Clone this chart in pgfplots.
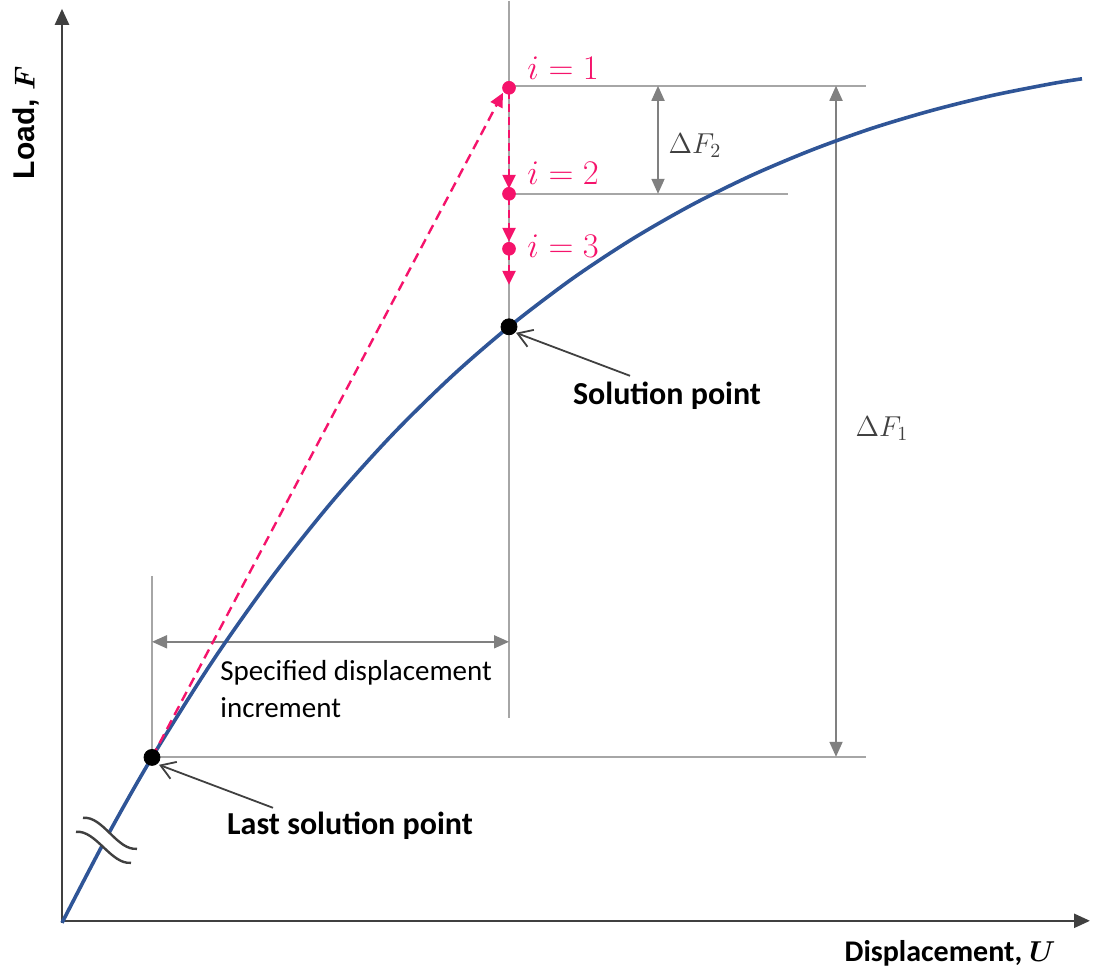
\documentclass[border=0pt]{standalone}
\usepackage{pgfplots}
\pgfplotsset{compat=1.18}
\usepackage{bm}
\usepackage{fontspec}
\setmainfont{Carlito}
\newfontfamily\arialfont{Liberation Sans}
\usetikzlibrary{arrows.meta}

\definecolor{curveblue}{HTML}{2F5597}
\definecolor{iterpink}{HTML}{F5136B}
\definecolor{axisgray}{HTML}{404040}
\definecolor{guidegray}{HTML}{A6A6A6}
\definecolor{dimgray}{HTML}{808080}

\tikzset{
  dimtip/.tip={Triangle[length=7.5pt,width=6.5pt]},
  pinktip/.tip={Triangle[length=7pt,width=6.5pt]},
}

\begin{document}
\begin{tikzpicture}
\begin{axis}[
  x=0.5pt, y=0.5pt,
  xmin=0, xmax=1095, ymin=0, ymax=976,
  hide axis, clip=false,
  font=\fontsize{14.5}{17}\selectfont,
]
% full drawing area
\path (axis cs:0,0) rectangle (axis cs:1095,976);

% thin guide lines
\addplot[guidegray, line width=0.8pt] coordinates {(509,976) (509,259)};
\addplot[guidegray, line width=0.8pt] coordinates {(152,401) (152,220)};
\addplot[guidegray, line width=0.8pt] coordinates {(152,220) (866,220)};
\addplot[guidegray, line width=0.8pt] coordinates {(509,891) (866,891)};
\addplot[guidegray, line width=0.8pt] coordinates {(509,783) (788,783)};

% dimension arrows
\addplot[dimgray, line width=0.9pt, dimtip-dimtip] coordinates {(152,335) (509,335)};
\addplot[dimgray, line width=0.9pt, dimtip-dimtip] coordinates {(836,891) (836,220)};
\addplot[dimgray, line width=0.9pt, dimtip-dimtip] coordinates {(658,891) (658,783)};

% coordinate axes
\addplot[axisgray, line width=1.2pt, -{Triangle[length=8pt,width=7pt]}] coordinates {(62,54) (62,968)};
\addplot[axisgray, line width=1.2pt, -{Triangle[length=8pt,width=7pt]}] coordinates {(62,56) (1090,56)};

% load-displacement curve
\addplot[curveblue, line width=1.8pt, smooth] coordinates {
  (62,54) (107,140.2) (152,219.4) (212,314.8) (272,399.7) (332,475.1)
  (392,541.8) (452,600.7) (509,650) (572,697.9) (632,737.6) (692,772)
  (752,801.6) (812,826.9) (872,848.5) (932,866.4) (992,881.3) (1052,893.2) (1082,898)
};

% axis break
\fill[white] (axis cs:83,159) .. controls (axis cs:103,161) and (axis cs:117,126) .. (axis cs:137,128)
  -- (axis cs:131,114) .. controls (axis cs:111,112) and (axis cs:96,147) .. (axis cs:76,145) -- cycle;
\draw[axisgray, line width=1.2pt] (axis cs:83,159) .. controls (axis cs:103,161) and (axis cs:117,126) .. (axis cs:137,128);
\draw[axisgray, line width=1.2pt] (axis cs:76,145) .. controls (axis cs:96,147) and (axis cs:111,112) .. (axis cs:131,114);

% solution points
\addplot[only marks, mark=*, mark size=4pt, black] coordinates {(152,219.4) (509,650)};

% iterations
\addplot[iterpink, line width=1.2pt, dash pattern=on 5pt off 3pt, -pinktip] coordinates {(152,219.4) (503,884)};
\addplot[iterpink, line width=1.2pt, dash pattern=on 4pt off 2.5pt, -pinktip] coordinates {(509,886) (509,788)};
\addplot[iterpink, line width=1.2pt, dash pattern=on 4pt off 2.5pt, -pinktip] coordinates {(509,780) (509,735)};
\addplot[iterpink, line width=1.2pt, dash pattern=on 4pt off 2.5pt, -pinktip] coordinates {(509,725) (509,692)};
\addplot[only marks, mark=*, mark size=3.2pt, iterpink] coordinates {(509,889) (509,783) (509,728)};

% callout arrows
\addplot[axisgray, line width=0.9pt, -{Straight Barb[length=7pt,width=9pt]}] coordinates {(273,169) (159,212)};
\addplot[axisgray, line width=0.9pt, -{Straight Barb[length=7pt,width=9pt]}] coordinates {(630,601) (516,644)};

% labels
\node[anchor=west, inner sep=0pt] at (axis cs:220,304) {Specified displacement};
\node[anchor=west, inner sep=0pt] at (axis cs:220,269) {increment};
\node[inner sep=0pt, font=\fontsize{16}{19}\selectfont] at (axis cs:350,151) {\bfseries Last solution point};
\node[inner sep=0pt, font=\fontsize{16}{19}\selectfont] at (axis cs:667,581) {\bfseries Solution point};
\node[inner sep=0pt, text=axisgray, font=\fontsize{14}{17}\selectfont] at (axis cs:695,831) {$\Delta F_2$};
\node[inner sep=0pt, text=axisgray, font=\fontsize{14}{17}\selectfont] at (axis cs:882,548) {$\Delta F_1$};
\node[anchor=west, inner sep=0pt, text=iterpink, font=\fontsize{16}{19}\selectfont] at (axis cs:527,909) {$i = 1$};
\node[anchor=west, inner sep=0pt, text=iterpink, font=\fontsize{16}{19}\selectfont] at (axis cs:527,804) {$i = 2$};
\node[anchor=west, inner sep=0pt, text=iterpink, font=\fontsize{16}{19}\selectfont] at (axis cs:527,731) {$i = 3$};
\node[rotate=90, inner sep=0pt, font=\fontsize{15}{18}\selectfont] at (axis cs:26,854) {\arialfont\bfseries Load, $\bm{F}$};
\node[inner sep=0pt, font=\fontsize{15}{18}\selectfont] at (axis cs:950,23) {\bfseries Displacement, $\bm{U}$};
\end{axis}
\end{tikzpicture}
\end{document}
